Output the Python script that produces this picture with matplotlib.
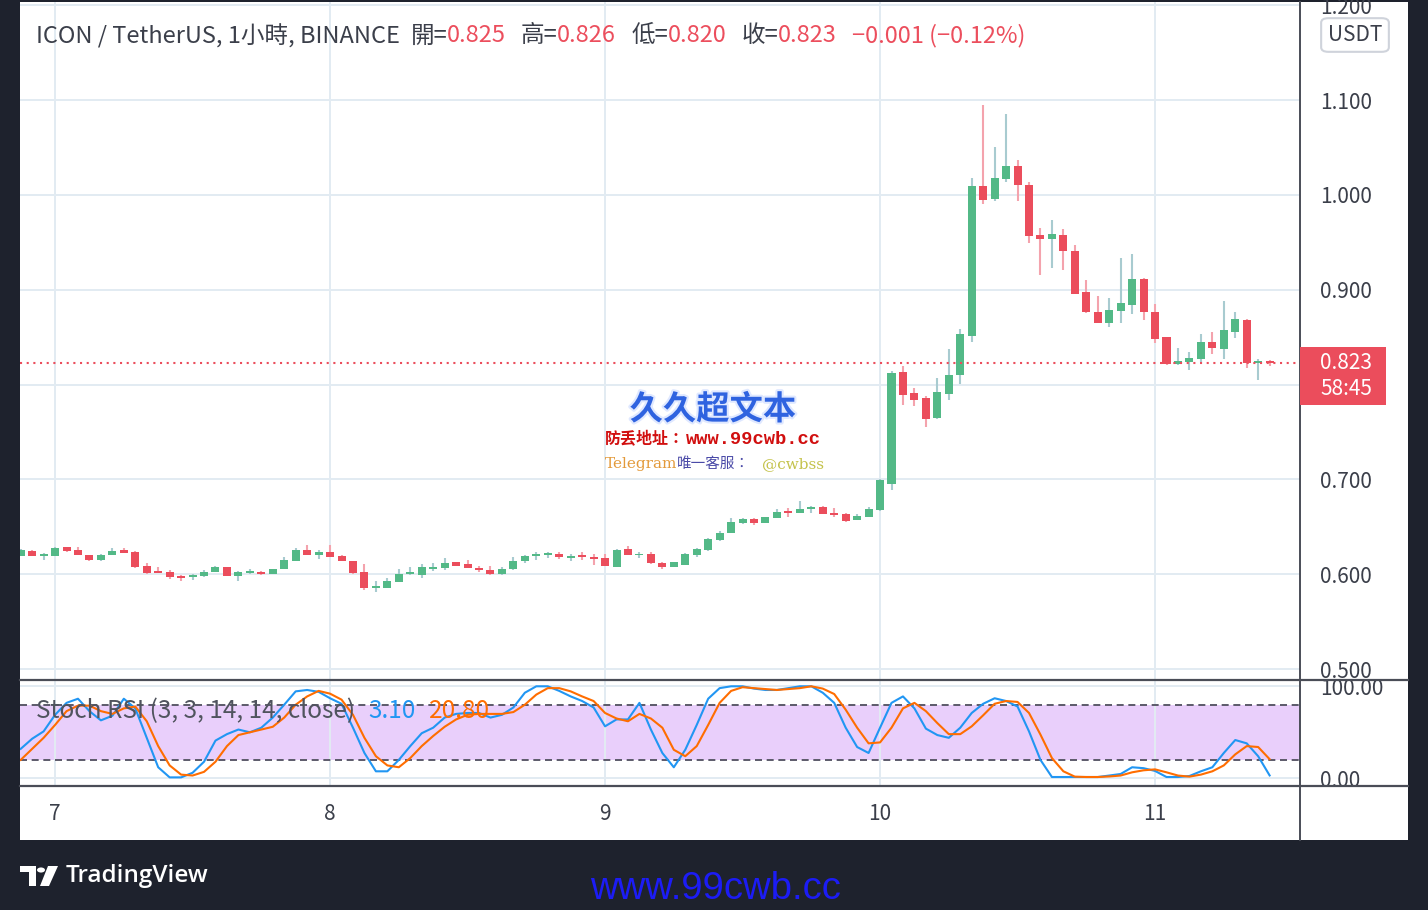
import numpy as np
import matplotlib
matplotlib.use('Agg')
import matplotlib.pyplot as plt
from matplotlib.patches import Rectangle, FancyBboxPatch, Circle, Polygon
from matplotlib.lines import Line2D
import matplotlib.patheffects as pe

plt.rcParams['font.family'] = ['Noto Sans CJK TC', 'DejaVu Sans']

# ---------------- data ----------------
opens = [0.6188, 0.6248, 0.6195, 0.6188, 0.6290, 0.6259, 0.6206, 0.6153, 0.6206, 0.6259,
         0.6238, 0.6090, 0.6037, 0.6026, 0.5984, 0.5974, 0.5984, 0.6026, 0.6079, 0.5984,
         0.6009, 0.6026, 0.6005, 0.6058, 0.6143, 0.6259, 0.6206, 0.6238, 0.6195, 0.6143,
         0.6026, 0.5857, 0.5857, 0.5921, 0.6005, 0.5995, 0.6058, 0.6069, 0.6132, 0.6111,
         0.6069, 0.6048, 0.6005, 0.6058, 0.6143, 0.6195, 0.6199, 0.6216, 0.6174, 0.6206,
         0.6185, 0.6174, 0.6079, 0.6269, 0.6199, 0.6217, 0.6121, 0.6079, 0.6100, 0.6206,
         0.6259, 0.6364, 0.6438, 0.6544, 0.6586, 0.6544, 0.6597, 0.6671, 0.6649, 0.6692,
         0.6713, 0.6649, 0.6639, 0.6576, 0.6607, 0.6681, 0.6956, 0.8131, 0.7909, 0.7857,
         0.7646, 0.7902, 0.8103, 0.8514, 1.0093, 0.9959, 1.0170, 1.0304, 1.0104, 0.9576,
         0.9537, 0.9576, 0.9407, 0.8975, 0.8765, 0.8649, 0.8775, 0.8839, 0.9112, 0.8765,
         0.8502, 0.8218, 0.8239, 0.8270, 0.8449, 0.8375, 0.8554, 0.8681, 0.8228, 0.8250]
highs = [0.6262, 0.6259, 0.6220, 0.6290, 0.6290, 0.6290, 0.6206, 0.6213, 0.6280, 0.6280,
         0.6248, 0.6121, 0.6079, 0.6048, 0.5995, 0.6005, 0.6048, 0.6090, 0.6079, 0.6037,
         0.6058, 0.6037, 0.6058, 0.6185, 0.6280, 0.6312, 0.6259, 0.6312, 0.6206, 0.6143,
         0.6111, 0.5931, 0.5963, 0.6058, 0.6079, 0.6111, 0.6121, 0.6174, 0.6132, 0.6153,
         0.6090, 0.6090, 0.6079, 0.6185, 0.6206, 0.6238, 0.6238, 0.6238, 0.6216, 0.6238,
         0.6216, 0.6216, 0.6269, 0.6301, 0.6238, 0.6238, 0.6132, 0.6132, 0.6227, 0.6280,
         0.6385, 0.6459, 0.6597, 0.6597, 0.6597, 0.6607, 0.6692, 0.6702, 0.6776, 0.6723,
         0.6723, 0.6702, 0.6649, 0.6639, 0.6713, 0.7000, 0.8141, 0.8194, 0.7962, 0.7878,
         0.8067, 0.8373, 0.8584, 1.0177, 1.0947, 1.0504, 1.0852, 1.0367, 1.0135, 0.9650,
         0.9734, 0.9639, 0.9470, 0.9102, 0.8933, 0.8912, 0.9333, 0.9375, 0.9123, 0.8849,
         0.8502, 0.8386, 0.8344, 0.8533, 0.8554, 0.8881, 0.8765, 0.8691, 0.8270, 0.8260]
lows = [0.6188, 0.6195, 0.6153, 0.6188, 0.6238, 0.6206, 0.6143, 0.6143, 0.6206, 0.6227,
        0.6069, 0.6005, 0.6016, 0.5952, 0.5931, 0.5942, 0.5974, 0.6026, 0.5984, 0.5931,
        0.6005, 0.5995, 0.6005, 0.6058, 0.6143, 0.6206, 0.6164, 0.6185, 0.6143, 0.6005,
        0.5836, 0.5815, 0.5857, 0.5921, 0.5995, 0.5963, 0.6037, 0.6048, 0.6090, 0.6069,
        0.6026, 0.5995, 0.5995, 0.6048, 0.6121, 0.6153, 0.6174, 0.6164, 0.6143, 0.6153,
        0.6100, 0.6090, 0.6079, 0.6206, 0.6174, 0.6111, 0.6058, 0.6079, 0.6100, 0.6185,
        0.6248, 0.6354, 0.6438, 0.6533, 0.6523, 0.6544, 0.6597, 0.6607, 0.6649, 0.6649,
        0.6639, 0.6607, 0.6554, 0.6576, 0.6607, 0.6671, 0.6892, 0.7786, 0.7775, 0.7554,
        0.7633, 0.7839, 0.8008, 0.8451, 0.9902, 0.9936, 1.0139, 0.9933, 0.9490, 0.9158,
        0.9231, 0.9210, 0.8954, 0.8754, 0.8649, 0.8607, 0.8649, 0.8744, 0.8681, 0.8439,
        0.8207, 0.8207, 0.8154, 0.8239, 0.8323, 0.8270, 0.8491, 0.8175, 0.8049, 0.8200]
closes = [0.6259, 0.6195, 0.6213, 0.6280, 0.6248, 0.6206, 0.6153, 0.6206, 0.6248, 0.6227,
          0.6079, 0.6016, 0.6016, 0.5974, 0.5963, 0.5995, 0.6026, 0.6079, 0.5984, 0.6026,
          0.6037, 0.6005, 0.6058, 0.6153, 0.6259, 0.6206, 0.6238, 0.6185, 0.6143, 0.6016,
          0.5857, 0.5875, 0.5931, 0.6005, 0.6016, 0.6079, 0.6076, 0.6121, 0.6090, 0.6069,
          0.6048, 0.6005, 0.6058, 0.6143, 0.6195, 0.6216, 0.6227, 0.6185, 0.6195, 0.6185,
          0.6164, 0.6090, 0.6259, 0.6206, 0.6213, 0.6121, 0.6079, 0.6132, 0.6217, 0.6269,
          0.6375, 0.6438, 0.6554, 0.6586, 0.6544, 0.6607, 0.6660, 0.6649, 0.6692, 0.6705,
          0.6639, 0.6628, 0.6565, 0.6618, 0.6692, 0.6988, 0.8120, 0.7892, 0.7839, 0.7639,
          0.7920, 0.8099, 0.8532, 1.0093, 0.9949, 1.0177, 1.0304, 1.0107, 0.9569, 0.9537,
          0.9587, 0.9411, 0.8954, 0.8765, 0.8649, 0.8786, 0.8860, 0.9112, 0.8765, 0.8481,
          0.8218, 0.8249, 0.8281, 0.8449, 0.8386, 0.8575, 0.8691, 0.8228, 0.8249, 0.8230]

stoch_k = [32, 43, 51, 69, 82, 86.5, 73, 63, 68, 86.5, 76, 44, 12, 1, 1, 6, 18, 41, 48, 53,
           50, 55, 66, 80, 94.5, 96, 94, 87,
           81, 55, 27.5, 7.6, 7.6, 20, 35, 49, 55, 66, 70, 71, 71, 66, 69, 77, 93, 100, 100, 95,
           89, 84, 77, 56.5, 64, 64, 82,
           53, 27.5, 12, 31, 58, 86.5, 98, 100, 100, 97.5, 96, 96, 98, 100, 100, 93, 82, 55, 34, 27.5,
           55, 82, 89, 76, 54, 47, 44, 55,
           71, 81, 87, 84, 78, 51, 20, 1.4, 1.4, 1.4, 1.4, 1.4, 3, 4.7, 12, 11, 8, 1.4, 1.4, 2.5,
           7.6, 12, 27.5, 41.6, 38, 24, 3.1]
stoch_d = [20, 32, 44, 58, 73, 79, 79, 73, 70, 76, 78, 62, 35, 14, 4, 3, 7, 18, 35, 47,
           50, 53, 56, 66, 80, 89, 95, 92,
           85.5, 69, 44, 24, 14, 12, 22, 35, 46, 56, 64, 69, 70, 70, 70, 72, 80, 91, 98, 98,
           94.5, 89, 84, 71, 65, 62, 70,
           65, 55, 31, 24, 35, 58, 82, 95, 99, 98, 97, 96, 97, 98, 100, 97.5, 91.6, 74.6, 55, 38,
           39, 55, 76, 82, 73, 60, 48, 48,
           56.5, 68.5, 81, 84, 83, 71, 47.5, 22, 7.6, 1.8, 1.4, 1.4, 2, 3, 6.5, 8.7, 9.7, 6.5, 3, 1.8,
           4, 7.6, 14, 26, 35, 34, 20.8]

day_labels = ['7', '8', '9', '10', '11']
day_index = [3, 27, 51, 75, 99]          # bar index of 00:00 of each day
price_ticks = [0.5, 0.6, 0.7, 0.8, 0.9, 1.0, 1.1, 1.2]
last_price = 0.823
countdown = '58:45'

# ---------------- style ----------------
W, H = 1428, 910
BG = '#1e222d'
UP, DN = '#53b987', '#eb4d5c'
WUP, WDN = '#a8cbd0', '#f4a3ad'
GRID = '#e2ebf2'
TXT = '#3b3f4a'
RED_TXT = '#ec4e5d'
AFS = 15


def fx(px):
    return px / W


def fy(py):
    return 1 - py / H


fig = plt.figure(figsize=(W / 100, H / 100), dpi=100, facecolor=BG)
fig.patches.append(Rectangle((fx(20), fy(840)), fx(1408) - fx(20), fy(2) - fy(840),
                             transform=fig.transFigure, facecolor='white',
                             edgecolor='none', zorder=-10))

# ---------------- main price pane ----------------
ax = fig.add_axes([fx(20), fy(679), fx(1300) - fx(20), fy(2) - fy(679)])
ax.set_facecolor('none')
for s in ax.spines.values():
    s.set_visible(False)

o = np.array(opens); h = np.array(highs); l = np.array(lows); c = np.array(closes)
x = np.arange(len(o))
up = c >= o
lo = np.minimum(o, c)
bh = np.maximum(np.abs(c - o), 0.0013)

ax.vlines(x[up], l[up], h[up], color=WUP, lw=1.5, zorder=2)
ax.vlines(x[~up], l[~up], h[~up], color=WDN, lw=1.5, zorder=2)
ax.bar(x[up], bh[up], bottom=lo[up], width=0.7, color=UP, lw=0, zorder=3)
ax.bar(x[~up], bh[~up], bottom=lo[~up], width=0.7, color=DN, lw=0, zorder=3)

px_per_unit = 569 / 0.6
ax.set_ylim(1.1 - (679 - 100) / px_per_unit, 1.1 - (2 - 100) / px_per_unit)
xl = ((20 - 20.7) / 11.458, (1300 - 20.7) / 11.458)
ax.set_xlim(*xl)

ax.set_xticks(day_index)
ax.set_yticks(price_ticks)
ax.set_yticklabels([f'{v:.3f}' for v in price_ticks])
ax.yaxis.tick_right()
ax.tick_params(axis='y', length=0, pad=14.4, labelsize=AFS, labelcolor=TXT)
ax.tick_params(axis='x', length=0, labelbottom=False)
ax.grid(True, color=GRID, lw=1.4, zorder=0)
ax.set_axisbelow(True)

ax.axhline(last_price, color=DN, lw=1.5, ls=(0, (1, 2.2)), zorder=4)

# ---------------- Stoch RSI pane ----------------
rax = fig.add_axes([fx(20), fy(786), fx(1300) - fx(20), fy(680) - fy(786)])
rax.set_facecolor('none')
for s in rax.spines.values():
    s.set_visible(False)
rax.set_xlim(*xl)
rax.set_ylim((778.3 - 786) / 0.92, (778.3 - 680) / 0.92)
rax.axhspan(20, 80, color='#e9cffb', lw=0, zorder=0.5)
rax.axhline(80, color='#5c5a6a', lw=1.4, dashes=(3.6, 2.4), zorder=1)
rax.axhline(20, color='#5c5a6a', lw=1.4, dashes=(3.6, 2.4), zorder=1)
rax.plot(x, stoch_k, color='#2196f3', lw=1.5, zorder=3)
rax.plot(x, stoch_d, color='#ff6d00', lw=1.5, zorder=3)
rax.set_yticks([0, 100])
rax.set_yticklabels(['0.00', '100.00'])
rax.yaxis.tick_right()
rax.tick_params(axis='y', length=0, pad=14.4, labelsize=AFS, labelcolor=TXT)
rax.set_xticks(day_index)
rax.set_xticklabels(day_labels)
rax.tick_params(axis='x', length=0, pad=12, labelsize=AFS, labelcolor=TXT)
rax.grid(True, color=GRID, lw=1.4, zorder=0)
rax.set_axisbelow(True)

SFS = 17.5
rax.text(fx(36), fy(711), 'Stoch RSI (3, 3, 14, 14, close)', transform=fig.transFigure,
         fontsize=SFS, color='#50545e', va='center', ha='left', zorder=5)
rax.text(fx(368), fy(711), f'{stoch_k[-1]:.2f}', transform=fig.transFigure,
         fontsize=SFS, color='#2196f3', va='center', ha='left', zorder=5)
rax.text(fx(429), fy(711), f'{stoch_d[-1]:.2f}', transform=fig.transFigure,
         fontsize=SFS, color='#ff6d00', va='center', ha='left', zorder=5)

# ---------------- frame lines ----------------
for yy in (679.5, 786):
    fig.add_artist(Line2D([fx(20), fx(1408)], [fy(yy), fy(yy)], color='#4a4d57', lw=1.6))
fig.add_artist(Line2D([fx(1300), fx(1300)], [fy(2), fy(840)], color='#4a4d57', lw=1.4))

# ---------------- title ----------------
ty = fy(36)
fs = 17
fig.text(fx(36), ty, 'ICON / TetherUS, 1小時, BINANCE', fontsize=fs, color=TXT, va='center')
for lab, val, xl_, xv in [('開=', opens[-1], 411, 447), ('高=', highs[-1], 521, 557),
                          ('低=', lows[-1], 632, 668), ('收=', closes[-1], 742, 778)]:
    fig.text(fx(xl_), ty, lab, fontsize=fs, color=TXT, va='center')
    fig.text(fx(xv), ty, f'{val:.3f}', fontsize=fs, color=RED_TXT, va='center')
fig.text(fx(852), ty, '−0.001 (−0.12%)', fontsize=fs, color=RED_TXT, va='center')

# ---------------- price axis widgets ----------------
fig.patches.append(FancyBboxPatch((fx(1324), fy(50)), fx(1386) - fx(1324), fy(20) - fy(50),
                                  boxstyle='round,pad=0.002,rounding_size=0.005',
                                  transform=fig.transFigure, facecolor='white',
                                  edgecolor='#cfd3db', lw=1.5, zorder=3))
fig.text(fx(1355), fy(35), 'USDT', fontsize=AFS, color=TXT, ha='center', va='center', zorder=4)

fig.patches.append(Rectangle((fx(1300), fy(405)), fx(1386) - fx(1300), fy(347) - fy(405),
                             transform=fig.transFigure, facecolor=DN, edgecolor='none', zorder=3))
fig.text(fx(1320), fy(363), f'{last_price:.3f}', fontsize=AFS, color='white', va='center', zorder=4)
fig.text(fx(1320), fy(389), countdown, fontsize=AFS, color='white', va='center', zorder=4)

# ---------------- watermark ----------------
fig.text(fx(713), fy(410), '久久超文本', fontsize=24, fontweight='bold', color='#2f63e0',
         ha='center', va='center', zorder=5,
         path_effects=[pe.withStroke(linewidth=3, foreground='#dfe8ff')])
fig.text(fx(605), fy(439), '防丢地址：', fontsize=11.5, fontweight='bold', color='#d10f0f',
         va='center', zorder=5)
fig.text(fx(686), fy(439), 'www.99cwb.cc', fontsize=13.5, fontweight='bold', color='#d10f0f',
         va='center', zorder=5, family=['Liberation Mono', 'DejaVu Sans Mono'])
fig.text(fx(605), fy(464), 'Telegram', fontsize=11, color='#e39a3b', va='center', zorder=5,
         family=['DejaVu Serif'])
fig.text(fx(677), fy(464), '唯一客服：', fontsize=10.5, color='#4b4ba8', va='center', zorder=5)
fig.text(fx(762), fy(464), '@cwbss', fontsize=11, color='#c4c24a', va='center', zorder=5,
         family=['DejaVu Serif'])

# ---------------- footer ----------------
fig.patches.append(Polygon([(fx(20), fy(866)), (fx(36), fy(866)), (fx(36), fy(886)),
                            (fx(29), fy(886)), (fx(29), fy(872)), (fx(20), fy(872))],
                           closed=True, transform=fig.transFigure, facecolor='white',
                           edgecolor='none'))
fig.patches.append(Circle((fx(41), fy(870)), 4 / W, transform=fig.transFigure,
                          facecolor='white', edgecolor='none'))
fig.patches.append(Polygon([(fx(48), fy(866)), (fx(58), fy(866)), (fx(49), fy(886)),
                            (fx(40), fy(886))], closed=True, transform=fig.transFigure,
                           facecolor='white', edgecolor='none'))
fig.text(fx(66), fy(876), 'TradingView', fontsize=17.5, color='white', va='center',
         family=['Open Sans', 'DejaVu Sans'], fontweight='semibold')
fig.text(fx(715), fy(889), 'www.99cwb.cc', fontsize=27.5, color='#1c1cf5', ha='center',
         va='center', family=['Liberation Sans', 'DejaVu Sans'])

fig.savefig('out.png', dpi=100, facecolor=BG)
